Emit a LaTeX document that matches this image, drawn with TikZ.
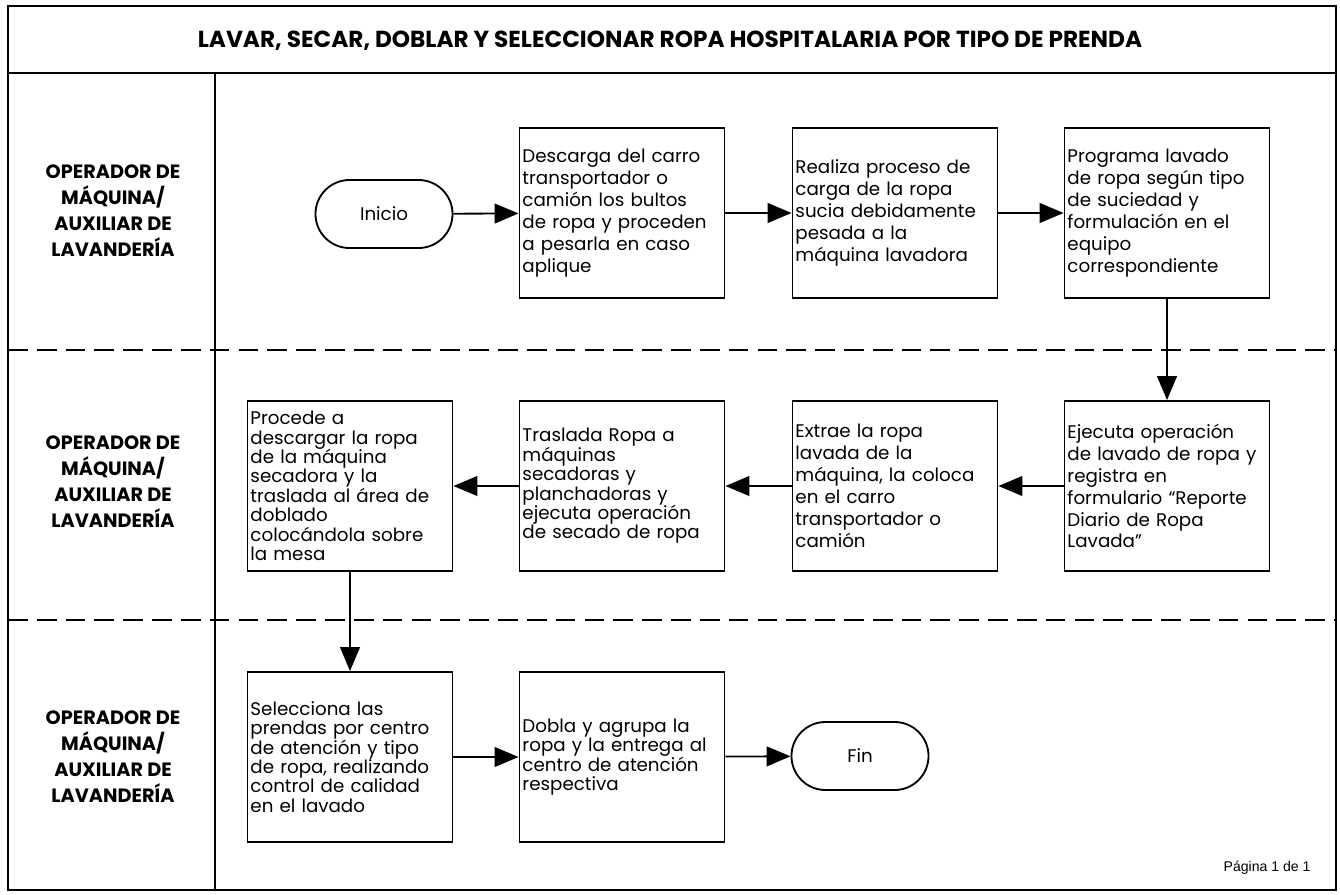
\documentclass[tikz,border=0pt]{standalone}
\usepackage{fontspec}
\setmainfont{Poppins}
\newfontfamily\arialfont{Liberation Sans}
\usetikzlibrary{arrows.meta}
\tikzset{
proc/.style={draw,line width=1.3pt,minimum height=4.25cm,text width=4.975cm,inner sep=0.075cm,align=left,font=\fontsize{13}{15.6}\selectfont},
tight/.style={font=\fontsize{13}{13.8}\selectfont},
term/.style={draw,line width=1.3pt,rounded corners=0.85cm,minimum width=3.425cm,minimum height=1.7cm,font=\fontsize{13}{15.6}\selectfont},
lane/.style={align=center,font=\bfseries\fontsize{13.7}{18.5}\selectfont},
flow/.style={line width=1.3pt,-{Triangle[length=17pt,width=14pt]}}
}
\begin{document}
\begin{tikzpicture}[x=0.025cm,y=-0.025cm,line width=1.2pt]
\useasboundingbox(0,0)rectangle(1340,894);
%frame
\draw(8,6)rectangle(1336,890);
\draw(8,73)--(1336,73);
\draw(215,73)--(215,890);
\foreach \y in {350,620}{\draw[dash pattern=on 14pt off 6.5pt](8,\y)--(1336,\y);}
\node[font=\bfseries\fontsize{16.5}{19}\selectfont](title)at(670,41){LAVAR, SECAR, DOBLAR Y SELECCIONAR ROPA HOSPITALARIA POR TIPO DE PRENDA};
\foreach \y/\n in {211/1,482/2,757/3}{\node[lane](lane\n)at(113,\y){OPERADOR DE\\MÁQUINA/\\AUXILIAR DE\\LAVANDERÍA};}
\node[font=\arialfont\fontsize{10}{12}\selectfont,anchor=east](pag)at(1316,868){Página 1 de 1};
%first lane
\node[term](inicio)at(384,214){Inicio};
\node[proc](descarga)at(622,213){Descarga del carro\\transportador o\\camión los bultos\\de ropa y proceden\\a pesarla en caso\\aplique};
\node[proc](carga)at(895,213){Realiza proceso de\\carga de la ropa\\sucia debidamente\\pesada a la\\máquina lavadora};
\node[proc](programa)at(1167,213){Programa lavado\\de ropa según tipo\\de suciedad y\\formulación en el\\equipo\\correspondiente};
%second lane
\node[proc](ejecuta)at(1167,486){Ejecuta operación\\de lavado de ropa y\\registra en\\formulario “Reporte\\Diario de Ropa\\Lavada”};
\node[proc](extrae)at(895,486){Extrae la ropa\\lavada de la\\máquina, la coloca\\en el carro\\transportador o\\camión};
\node[proc,tight](traslada)at(622,486){Traslada Ropa a\\máquinas\\secadoras y\\planchadoras y\\ejecuta operación\\de secado de ropa};
\node[proc,tight](procede)at(350,486){Procede a\\descargar la ropa\\de la máquina\\secadora y la\\traslada al área de\\doblado\\colocándola sobre\\la mesa};
%third lane
\node[proc,tight](selecciona)at(350,757){Selecciona las\\prendas por centro\\de atención y tipo\\de ropa, realizando\\control de calidad\\en el lavado};
\node[proc,tight](dobla)at(622,757){Dobla y agrupa la\\ropa y la entrega al\\centro de atención\\respectiva};
\node[term](fin)at(860,756){Fin};
%arrows
\draw[flow](inicio)--(descarga);
\draw[flow](descarga)--(carga);
\draw[flow](carga)--(programa);
\draw[flow](programa)--(ejecuta);
\draw[flow](ejecuta)--(extrae);
\draw[flow](extrae)--(traslada);
\draw[flow](traslada)--(procede);
\draw[flow](procede)--(selecciona);
\draw[flow](selecciona)--(dobla);
\draw[flow](dobla)--(fin);
\end{tikzpicture}
\end{document}
